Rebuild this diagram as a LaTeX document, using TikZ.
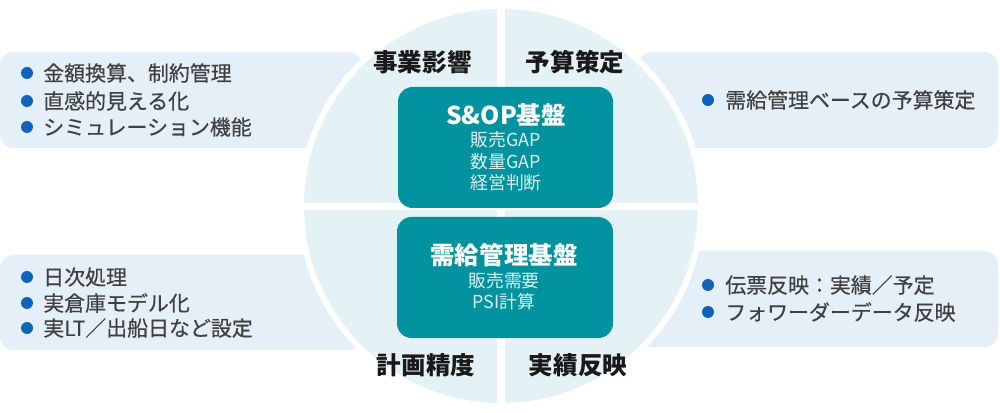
\documentclass[tikz,border=0pt]{standalone}
\usepackage{fontspec}
\setmainfont{Noto Sans CJK JP}
\newfontfamily\itemfont[FakeBold=0.4]{Noto Sans CJK JP}
\usepackage{tikz}
\usetikzlibrary{shapes,arrows}

\definecolor{ringbg}{RGB}{228,242,246}
\definecolor{calloutbg}{RGB}{229,239,247}
\definecolor{basebox}{RGB}{0,146,158}
\definecolor{bulletblue}{RGB}{16,100,184}
\definecolor{bodygray}{RGB}{64,64,64}
\definecolor{subwhite}{RGB}{222,240,242}

\begin{document}
\begin{tikzpicture}[x=0.75pt,y=0.75pt,yscale=-1,xscale=1,
    callout/.style={fill=calloutbg,draw=none,rounded corners=10pt},
    basebox/.style={fill=basebox,draw=none,rounded corners=11pt},
    item/.style={anchor=west,inner sep=0pt,text=bodygray,font=\itemfont\fontsize{15.7}{18}\selectfont},
    dot/.style={circle,fill=bulletblue,inner sep=0pt,minimum size=9pt},
    quarter/.style={inner sep=0pt,text=black!90,font=\bfseries\fontsize{18.4}{22}\selectfont},
    boxhead/.style={inner sep=0pt,text=white,font=\bfseries\fontsize{18.4}{22}\selectfont},
    boxline/.style={inner sep=0pt,text=subwhite,font=\fontsize{13.4}{16}\selectfont}]
    \useasboundingbox (0,0) rectangle (1000,413);

    %Shape: Callouts
    \draw [callout] (0,52) rectangle (362,148) ;
    \draw [callout] (638,52) rectangle (998,148) ;
    \draw [callout] (0,255) rectangle (362,350) ;
    \draw [callout] (638,251) rectangle (998,347) ;

    %Shape: Circle with white ring
    \fill [white] (501,206) circle [radius=203] ;
    \fill [ringbg] (501,206) circle [radius=197] ;
    %Straight Lines: quadrant gaps
    \draw [white,line width=6pt] (501,2) -- (501,410) ;
    \draw [white,line width=5.25pt] (297,206.5) -- (705,206.5) ;

    %Shape: Rounded Rectangles
    \draw [basebox] (398,87) rectangle (613,208) ;
    \draw [basebox] (397,217) rectangle (613,338) ;

    % Text Node: box texts
    \node [boxhead] (sop) at (506,115) {S\&OP基盤};
    \node [boxline] (sopA) at (506,140) {販売GAP};
    \node [boxline] (sopB) at (506,162) {数量GAP};
    \node [boxline] (sopC) at (506,183) {経営判断};
    \node [boxhead] (scm) at (504,255) {需給管理基盤};
    \node [boxline] (scmA) at (504,281) {販売需要};
    \node [boxline] (scmB) at (504,302) {PSI計算};

    % Text Node: quadrant titles
    \node [quarter] (impact) at (422.5,62) {事業影響};
    \node [quarter] (budget) at (575,62) {予算策定};
    \node [quarter] (accuracy) at (426,365) {計画精度};
    \node [quarter] (actual) at (578,365) {実績反映};

    % Text Node: upper left
    \node [dot] (ulA) at (27,73) {};
    \node [item] (ulAt) at (43,73) {金額換算、制約管理};
    \node [dot] (ulB) at (27,101) {};
    \node [item] (ulBt) at (43,101) {直感的見える化};
    \node [dot] (ulC) at (27,127) {};
    \node [item] (ulCt) at (43,127) {シミュレーション機能};

    % Text Node: upper right
    \node [dot] (urA) at (708,100) {};
    \node [item] (urAt) at (725,100) {需給管理ベースの予算策定};

    % Text Node: lower left
    \node [dot] (llA) at (27,277) {};
    \node [item] (llAt) at (43,277) {日次処理};
    \node [dot] (llB) at (27,303) {};
    \node [item] (llBt) at (43,303) {実倉庫モデル化};
    \node [dot] (llC) at (27,328) {};
    \node [item] (llCt) at (43,328) {実LT／出船日など設定};

    % Text Node: lower right
    \node [dot] (lrA) at (708,285) {};
    \node [item] (lrAt) at (725,285) {伝票反映：実績／予定};
    \node [dot] (lrB) at (708,312) {};
    \node [item] (lrBt) at (725,312) {フォワーダーデータ反映};

\end{tikzpicture}
\end{document}
